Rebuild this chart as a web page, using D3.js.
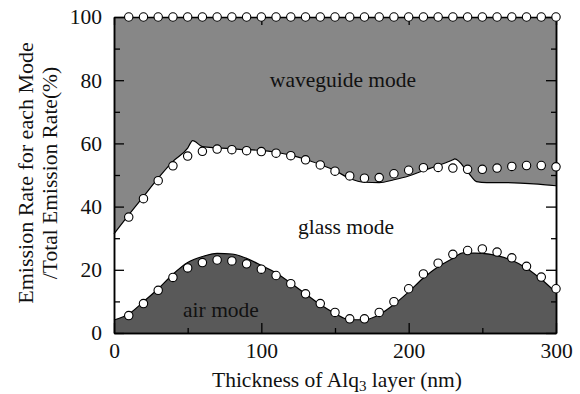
<!DOCTYPE html>
<html>
<head>
<meta charset="utf-8">
<script src="https://cdn.jsdelivr.net/npm/d3@7"></script>
<style>
  html, body { margin: 0; padding: 0; background: #fff; }
  svg { display: block; }
</style>
</head>
<body>
<svg id="chart" width="580" height="394"></svg>
<script>
// Calculated emission fractions (lines)
const waveX = [0, 10, 20, 30, 40, 50, 53.4, 60, 70, 80, 90, 100, 110, 120, 130, 140, 150, 160, 170, 180, 190, 200, 210, 220, 230, 231.3, 239, 242.6, 246, 253, 262, 285, 300];
const waveY = [31.4, 37.4, 43.2, 49.0, 54.3, 58.5, 60.9, 59.0, 58.6, 58.3, 58.0, 57.8, 57.2, 56.3, 55.0, 53.3, 51.4, 48.9, 47.7, 47.6, 48.5, 49.7, 51.4, 53.0, 54.8, 55.1, 51.6, 49.5, 47.9, 47.6, 47.6, 47.2, 46.6];

const airX = [0, 10, 20, 30, 40, 50, 60, 70, 80, 90, 100, 110, 120, 130, 140, 150, 160, 170, 180, 190, 200, 210, 220, 230, 237, 240, 250, 260, 270, 280, 290, 300];
const airY = [4.1, 6.0, 9.9, 14.0, 18.6, 22.3, 24.2, 25.2, 25.0, 23.6, 21.4, 19.0, 15.8, 12.4, 9.0, 6.2, 4.2, 4.2, 5.8, 9.0, 13.0, 17.4, 21.0, 23.6, 25.4, 25.3, 25.2, 24.5, 23.0, 20.5, 17.0, 12.8];

// Simulated points (circles)
const simX = [10, 20, 30, 40, 50, 60, 70, 80, 90, 100, 110, 120, 130, 140, 150, 160, 170, 180, 190, 200, 210, 220, 230, 240, 250, 260, 270, 280, 290, 300];
const simTotal = [100, 100, 100, 100, 100, 100, 100, 100, 100, 100, 100, 100, 100, 100, 100, 100, 100, 100, 100, 100, 100, 100, 100, 100, 100, 100, 100, 100, 100, 100];
const simGlass = [36.7, 42.5, 48.2, 52.9, 56.0, 57.5, 58.2, 58.0, 57.7, 57.4, 56.9, 56.1, 54.8, 53.2, 51.2, 49.7, 49.0, 49.2, 50.4, 51.5, 52.3, 52.4, 52.2, 51.8, 51.8, 52.2, 52.7, 53.0, 53.0, 52.6];
const simAir = [5.5, 9.3, 13.5, 17.6, 20.6, 22.3, 23.1, 22.8, 21.9, 20.2, 18.2, 15.6, 12.4, 9.3, 6.5, 4.5, 4.5, 6.5, 9.9, 14.0, 18.7, 22.1, 24.9, 26.1, 26.6, 25.6, 23.8, 21.1, 17.7, 14.0];

const xTicks = [0, 100, 200, 300];
const yTicks = [0, 20, 40, 60, 80, 100];
const xMinor = [50, 150, 250];
const yMinor = [10, 30, 50, 70, 90];

const regionLabels = ["waveguide mode", "glass mode", "air mode"];
const xTitle = "Thickness of Alq";
const yTitle = ["Emission Rate for each Mode", "/Total Emission Rate(%)"];

const margin = { left: 114, right: 24, top: 17, bottom: 61 };
const W = 580, H = 394;
const FS = 21.5;
const SERIF = '"Liberation Serif", "Times New Roman", serif';

const svg = d3.select("#chart");
const x = d3.scaleLinear().domain([0, 300]).range([margin.left, W - margin.right]);
const y = d3.scaleLinear().domain([0, 100]).range([H - margin.bottom, margin.top]);

const wave = waveX.map((v, i) => [v, waveY[i]]);
const air = airX.map((v, i) => [v, airY[i]]);

// waveguide region: between the glass/waveguide boundary and 100 %
svg.append("path")
  .datum(wave)
  .attr("fill", "#878787")
  .attr("d", d3.area().x(d => x(d[0])).y0(y(100)).y1(d => y(d[1])).curve(d3.curveMonotoneX));

// air region
svg.append("path")
  .datum(air)
  .attr("fill", "#595959")
  .attr("d", d3.area().x(d => x(d[0])).y0(y(0)).y1(d => y(d[1])).curve(d3.curveMonotoneX));

const line = d3.line().x(d => x(d[0])).y(d => y(d[1])).curve(d3.curveMonotoneX);
svg.append("path").datum(wave).attr("fill", "none").attr("stroke", "#000").attr("stroke-width", 1.2).attr("d", line);
svg.append("path").datum(air).attr("fill", "none").attr("stroke", "#000").attr("stroke-width", 1.2).attr("d", line);

// axes with inward ticks
function addAxis(axisFn, scale, ticks, size, transform, labels, pad) {
  const a = axisFn(scale).tickValues(ticks).tickSizeInner(-size).tickSizeOuter(0).tickPadding(pad || 10);
  if (!labels) a.tickFormat("");
  const g = svg.append("g").attr("transform", transform).call(a)
    .attr("font-family", SERIF).attr("font-size", FS);
  g.selectAll("line").attr("stroke", "#000").attr("stroke-width", 1.3);
  g.select(".domain").attr("stroke", "#000").attr("stroke-width", 1.5);
  g.selectAll("text").style("font-family", SERIF).style("font-size", FS + "px").attr("fill", "#111");
  return g;
}
addAxis(d3.axisBottom, x, xTicks, 10, `translate(0,${y(0)})`, true, 10);
addAxis(d3.axisBottom, x, xMinor, 5, `translate(0,${y(0)})`, false);
addAxis(d3.axisTop, x, xTicks, 8, `translate(0,${y(100)})`, false);
addAxis(d3.axisLeft, y, yTicks, 10, `translate(${x(0)},0)`, true, 12);
addAxis(d3.axisLeft, y, yMinor, 6, `translate(${x(0)},0)`, false);
addAxis(d3.axisRight, y, yTicks, 10, `translate(${x(300)},0)`, false);
addAxis(d3.axisRight, y, yMinor, 5, `translate(${x(300)},0)`, false);

// simulated points
function dots(vals) {
  svg.append("g").selectAll("circle").data(simX).join("circle")
    .attr("cx", d => x(d)).attr("cy", (d, i) => y(vals[i])).attr("r", 4.2)
    .attr("fill", "#fff").attr("stroke", "#000").attr("stroke-width", 1.1);
}
dots(simTotal);
dots(simGlass);
dots(simAir);

function label(px, py, txt) {
  return svg.append("text").attr("x", px).attr("y", py).attr("text-anchor", "middle")
    .style("font-family", SERIF).style("font-size", FS + "px").attr("fill", "#111").text(txt);
}
// region labels
label(343, 87, regionLabels[0]);
label(346, 234, regionLabels[1]);
label(221, 317, regionLabels[2]);

// axis titles
const xt = svg.append("text").attr("x", (x(0) + x(300)) / 2 + 2).attr("y", 387).attr("text-anchor", "middle")
  .style("font-family", SERIF).style("font-size", FS + "px").attr("fill", "#111");
xt.append("tspan").text(xTitle);
xt.append("tspan").attr("dy", 4).style("font-size", (FS * 0.7) + "px").text("3");
xt.append("tspan").attr("dy", -4).text(" layer (nm)");

const yt = svg.append("text").attr("transform", `translate(33,${(y(0) + y(100)) / 2 - 2}) rotate(-90)`).attr("text-anchor", "middle")
  .style("font-family", SERIF).style("font-size", FS + "px").attr("fill", "#111");
yt.append("tspan").attr("x", 0).attr("y", 0).style("font-size", "22px").text(yTitle[0]);
yt.append("tspan").attr("x", 0).attr("y", 24).text(yTitle[1]);
</script>
</body>
</html>
